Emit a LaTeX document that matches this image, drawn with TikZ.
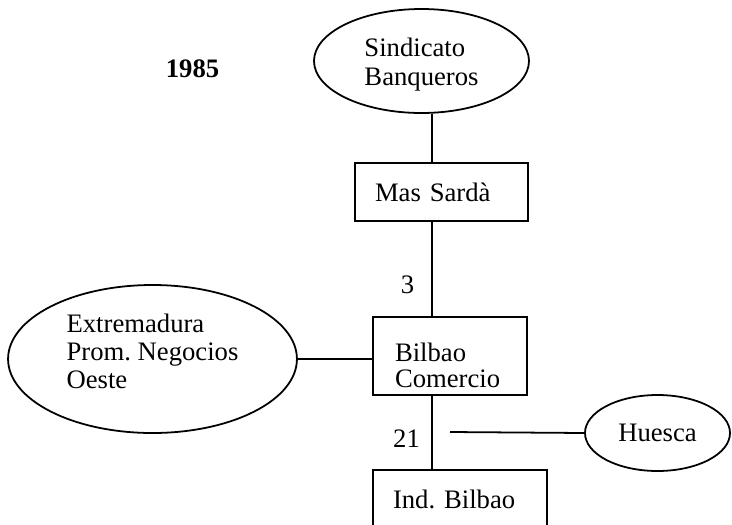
\documentclass[tikz,border=0pt]{standalone}
\usepackage{fontspec}
\setmainfont{Liberation Serif}
\usepackage{tikz}
\usetikzlibrary{
  shapes.geometric
}
\tikzset{
  firm/.style={rectangle, draw, line width=0.8pt, inner ysep=0pt, inner xsep=9pt, align=left},
  holder/.style={ellipse, draw, line width=0.8pt, inner sep=0pt, align=left},
  link/.style={line width=0.8pt}
}
\frenchspacing

\begin{document}
\begin{tikzpicture}[
    x=0.45pt, y=-0.45pt,
    font=\fontsize{12}{13}\selectfont,
    share/.style={inner sep=0pt}
]

% frame
\useasboundingbox (0,0) rectangle (732,524);
\clip (0,0) rectangle (732,524);

% nodes
\node[holder, minimum width=96.75pt, minimum height=46.8pt]
      (sindicato)   at (421.5,61)  {\rule{0pt}{11.8pt}Sindicato\\Banqueros};
\node[firm, text width=59.85pt, minimum height=26.1pt]
      (massarda)    at (441.5,192) {Mas Sardà};
\node[firm, inner xsep=9.9pt, text width=49.5pt, minimum height=35.1pt,
      font=\fontsize{12}{11.5}\selectfont]
      (bilbao)      at (450,356)   {\rule{0pt}{17pt}Bilbao\\Comercio};
\node[firm, text width=60.3pt, minimum height=26.1pt]
      (indbilbao)   at (460,499)   {Ind. Bilbao};
\node[holder, minimum width=130pt, minimum height=66.6pt,
      font=\fontsize{12}{12.4}\selectfont]
      (extremadura) at (152.5,359) {Extremadura\\Prom. Negocios\\Oeste\rule[-7pt]{0pt}{7pt}};
\node[holder, minimum width=65.25pt, minimum height=34.2pt]
      (huesca)      at (657.5,433) {Huesca};

% year and shares
\node[font=\bfseries\fontsize{12}{13}\selectfont] (year) at (192.5,68.5) {1985};
\node[share] (share3)  at (407.5,285) {3};
\node[share] (share21) at (406.5,439) {21};

% helpers
\coordinate (axis)   at (432,0);
\coordinate (hstart) at (450,432);

% links
\draw[link] (sindicato.south -| axis) -- (massarda.north -| axis);
\draw[link] (massarda.south -| axis) -- (bilbao.north -| axis);
\draw[link] (bilbao.south -| axis) -- (indbilbao.north -| axis);
\draw[link] (extremadura.east) -- (bilbao.west |- extremadura.east);
\draw[link] (hstart) -- (huesca.west);

\end{tikzpicture}
\end{document}
